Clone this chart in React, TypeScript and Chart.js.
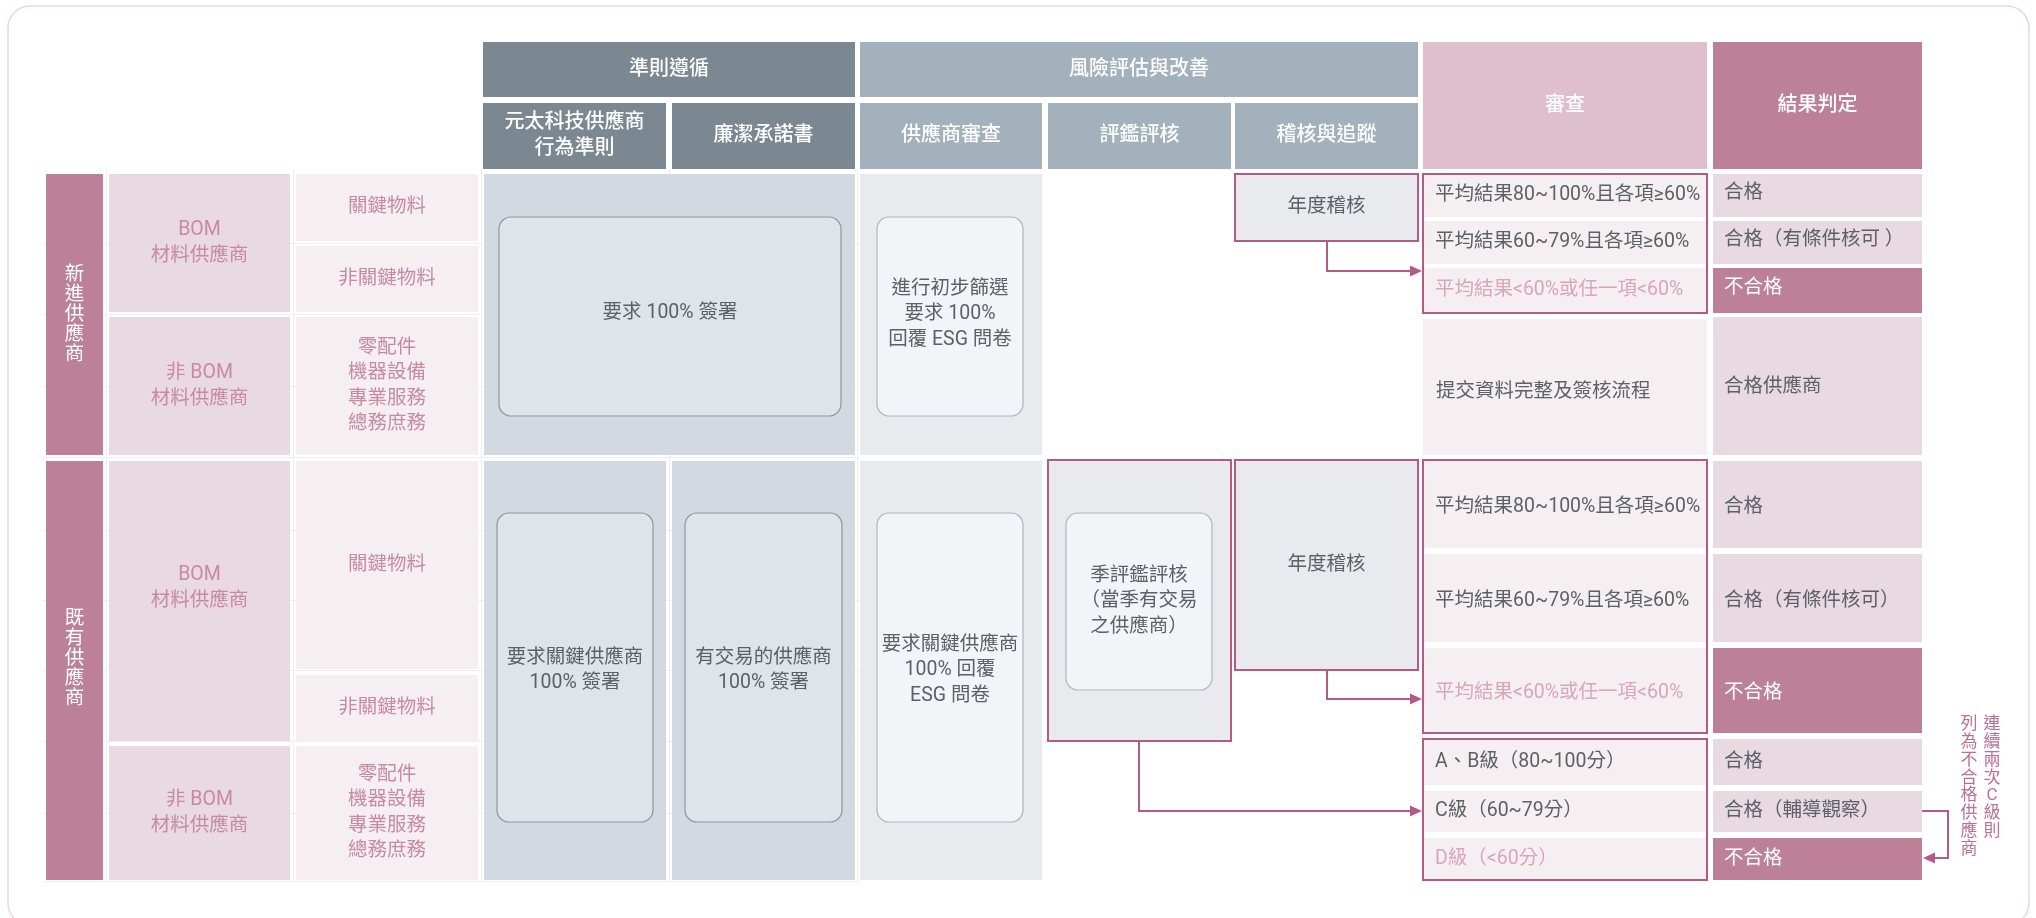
import React, { useEffect, useRef } from "react";
import { Chart, registerables } from "chart.js";

Chart.register(...registerables);

// ---------------- DATA ----------------
const PILLARS = ["準則遵循", "風險評估與改善"];
const CONDUCT_STEPS = ["元太科技供應商\n行為準則", "廉潔承諾書"];
const RISK_STEPS = ["供應商審查", "評鑑評核", "稽核與追蹤"];
const REVIEW_HEADER = "審查";
const RESULT_HEADER = "結果判定";
const SUPPLIER_GROUPS = ["新進供應商", "既有供應商"];
const SUPPLIER_TYPES = ["BOM\n材料供應商", "非 BOM\n材料供應商"];
const MATERIAL_TYPES = ["關鍵物料", "非關鍵物料", "零配件\n機器設備\n專業服務\n總務庶務"];
const NEW_CONDUCT = "要求 100% 簽署";
const NEW_SCREEN = "進行初步篩選\n要求 100%\n回覆 ESG 問卷";
const EXIST_CONDUCT = "要求關鍵供應商\n100% 簽署";
const EXIST_INTEGRITY = "有交易的供應商\n100% 簽署";
const EXIST_SCREEN = "要求關鍵供應商\n100% 回覆\nESG 問卷";
const QUARTERLY = "季評鑑評核\n（當季有交易\n之供應商）";
const ANNUAL = "年度稽核";
const AUDIT_CRITERIA = ["平均結果80~100%且各項≥60%", "平均結果60~79%且各項≥60%", "平均結果<60%或任一項<60%"];
const NEW_AUDIT_RESULTS = ["合格", "合格（有條件核可 ）", "不合格"];
const EXIST_AUDIT_RESULTS = ["合格", "合格（有條件核可）", "不合格"];
const ONBOARD_STEP = "提交資料完整及簽核流程";
const ONBOARD_RESULT = "合格供應商";
const GRADES = ["A、B級（80~100分）", "C級（60~79分）", "D級（<60分）"];
const GRADE_RESULTS = ["合格", "合格（輔導觀察）", "不合格"];
const NOTE_LINES = ["連續兩次C級則", "列為不合格供應商"];

// ---------------- STYLE ----------------
const W = 2036;
const H = 918;
const FONT = 'Roboto, "Noto Sans CJK TC", "Noto Sans", sans-serif';
const BODY_SIZE = 19.5;
const HEAD_SIZE = 20;
const COL = {
  headDark: "#7b8891",
  headLight: "#a3b1bc",
  headPink: "#dfbfcd",
  headRose: "#bc8099",
  conductBody: "#d2d9e0",
  conductBox: "#dfe3ea",
  conductLine: "#8e979f",
  screenBody: "#e9eaee",
  screenBox: "#f2f5f8",
  screenLine: "#a9b7c5",
  typeCell: "#e9dae1",
  materialCell: "#f6eff2",
  accent: "#b35a88",
  text: "#5b6168",
  pinkText: "#c78aa4",
  failText: "#d9a5bc",
  noteText: "#bb6f95",
  card: "#ecd5e0",
  grid: "#f1eef1",
  white: "#ffffff",
};

// ---------------- LAYOUT (grid in value space) ----------------
const X_LABEL: [number, number] = [46, 103];
const X_TYPE: [number, number] = [109, 290];
const X_MAT: [number, number] = [296, 478];
const X_C1: [number, number] = [483, 666];
const X_C2: [number, number] = [672, 855];
const X_R1: [number, number] = [860, 1042];
const X_R2: [number, number] = [1048, 1231];
const X_R3: [number, number] = [1235, 1418];
const X_REV: [number, number] = [1423, 1707];
const X_RES: [number, number] = [1713, 1922];
const Y_H1: [number, number] = [42, 97];
const Y_H2: [number, number] = [103, 169];
const Y_G1: [number, number] = [174, 455];
const Y_G2: [number, number] = [461, 880];

const App: React.FC = () => {
  const ref = useRef<HTMLCanvasElement | null>(null);

  useEffect(() => {
    document.body.style.margin = "0";
    document.body.style.background = "#ffffff";
    const canvas = ref.current;
    if (!canvas) return;

    const diagram = {
      id: "diagram",
      afterDraw(chart: any) {
        const ctx: CanvasRenderingContext2D = chart.ctx;
        const sx = chart.scales.x;
        const sy = chart.scales.y;
        const X = (v: number) => sx.getPixelForValue(v);
        const Y = (v: number) => sy.getPixelForValue(v);

        const fillRect = (xr: [number, number], yr: [number, number], color: string) => {
          ctx.fillStyle = color;
          ctx.fillRect(X(xr[0]), Y(yr[0]), X(xr[1]) - X(xr[0]), Y(yr[1]) - Y(yr[0]));
        };
        const strokeRect = (xr: [number, number], yr: [number, number], color: string, lw = 2) => {
          ctx.strokeStyle = color;
          ctx.lineWidth = lw;
          ctx.strokeRect(X(xr[0]), Y(yr[0]), X(xr[1]) - X(xr[0]), Y(yr[1]) - Y(yr[0]));
        };
        const roundBox = (xr: [number, number], yr: [number, number], fill: string, line: string, r = 12) => {
          ctx.beginPath();
          ctx.roundRect(X(xr[0]), Y(yr[0]), X(xr[1]) - X(xr[0]), Y(yr[1]) - Y(yr[0]), r);
          ctx.fillStyle = fill;
          ctx.fill();
          ctx.strokeStyle = line;
          ctx.lineWidth = 1.2;
          ctx.stroke();
        };
        const text = (
          s: string,
          x: number,
          y: number,
          color: string,
          align: CanvasTextAlign = "center",
          size = BODY_SIZE,
          weight = "normal",
          lh = 25.5
        ) => {
          const lines = s.split("\n");
          ctx.fillStyle = color;
          ctx.font = `${weight} ${size}px ${FONT}`;
          ctx.textAlign = align;
          ctx.textBaseline = "middle";
          const top = Y(y) - ((lines.length - 1) * lh) / 2;
          lines.forEach((ln, i) => ctx.fillText(ln, X(x), top + i * lh));
        };
        const cellText = (
          s: string,
          xr: [number, number],
          yr: [number, number],
          color: string,
          dy = 0,
          size = BODY_SIZE,
          weight = "normal"
        ) => text(s, (xr[0] + xr[1]) / 2, (yr[0] + yr[1]) / 2 + dy, color, "center", size, weight);
        const headText = (s: string, xr: [number, number], yr: [number, number]) =>
          cellText(s, xr, yr, COL.white, 0, HEAD_SIZE, "500");
        const vertical = (s: string, cx: number, cy: number, color: string, size: number, step: number) => {
          const chars = Array.from(s);
          ctx.fillStyle = color;
          ctx.font = `${size}px ${FONT}`;
          ctx.textAlign = "center";
          ctx.textBaseline = "middle";
          const top = Y(cy) - ((chars.length - 1) * step) / 2;
          chars.forEach((c, i) => ctx.fillText(c, X(cx), top + i * step));
        };
        const verticalTop = (s: string, cx: number, top: number, color: string, size: number, step: number) => {
          const chars = Array.from(s);
          ctx.fillStyle = color;
          ctx.font = `${size}px ${FONT}`;
          ctx.textAlign = "center";
          ctx.textBaseline = "middle";
          chars.forEach((c, i) => ctx.fillText(c, X(cx), Y(top) + step / 2 + i * step));
        };
        const arrow = (pts: [number, number][]) => {
          ctx.strokeStyle = COL.accent;
          ctx.fillStyle = COL.accent;
          ctx.lineWidth = 2;
          const n = pts.length;
          const [tx, ty] = pts[n - 1];
          const [px] = pts[n - 2];
          const dir = Math.sign(tx - px) || 1;
          const len = 12;
          ctx.beginPath();
          ctx.moveTo(X(pts[0][0]), Y(pts[0][1]));
          for (let i = 1; i < n - 1; i++) ctx.lineTo(X(pts[i][0]), Y(pts[i][1]));
          ctx.lineTo(X(tx - dir * len), Y(ty));
          ctx.stroke();
          ctx.beginPath();
          ctx.moveTo(X(tx), Y(ty));
          ctx.lineTo(X(tx - dir * len), Y(ty) - 5.5);
          ctx.lineTo(X(tx - dir * len), Y(ty) + 5.5);
          ctx.closePath();
          ctx.fill();
        };

        ctx.save();
        // card
        ctx.beginPath();
        ctx.roundRect(X(8), Y(6), X(2029) - X(8), Y(925) - Y(6), 22);
        ctx.strokeStyle = COL.card;
        ctx.lineWidth = 1.5;
        ctx.stroke();

        // faint table grid (visible only in the gaps between cells)
        ctx.strokeStyle = COL.grid;
        ctx.lineWidth = 1;
        [243, 314, 386, 457, 530, 600, 670, 741, 813, 881].forEach((gy) => {
          ctx.beginPath();
          ctx.moveTo(X(42), Y(gy) + 0.5);
          ctx.lineTo(X(860), Y(gy) + 0.5);
          ctx.stroke();
        });
        [106, 293, 481, 669, 857].forEach((gx) => {
          ctx.beginPath();
          ctx.moveTo(X(gx) + 0.5, Y(169));
          ctx.lineTo(X(gx) + 0.5, Y(883));
          ctx.stroke();
        });

        // ---- headers ----
        fillRect([X_C1[0], X_C2[1]], Y_H1, COL.headDark);
        fillRect([X_R1[0], X_R3[1]], Y_H1, COL.headLight);
        fillRect(X_C1, Y_H2, COL.headDark);
        fillRect(X_C2, Y_H2, COL.headDark);
        fillRect(X_R1, Y_H2, COL.headLight);
        fillRect(X_R2, Y_H2, COL.headLight);
        fillRect(X_R3, Y_H2, COL.headLight);
        fillRect(X_REV, [Y_H1[0], Y_H2[1]], COL.headPink);
        fillRect(X_RES, [Y_H1[0], Y_H2[1]], COL.headRose);
        headText(PILLARS[0], [X_C1[0], X_C2[1]], Y_H1);
        headText(PILLARS[1], [X_R1[0], X_R3[1]], Y_H1);
        headText(CONDUCT_STEPS[0], X_C1, Y_H2);
        headText(CONDUCT_STEPS[1], X_C2, Y_H2);
        headText(RISK_STEPS[0], X_R1, Y_H2);
        headText(RISK_STEPS[1], X_R2, Y_H2);
        headText(RISK_STEPS[2], X_R3, Y_H2);
        headText(REVIEW_HEADER, X_REV, [Y_H1[0], Y_H2[1]]);
        headText(RESULT_HEADER, X_RES, [Y_H1[0], Y_H2[1]]);

        // ---- left side: group 1 ----
        fillRect(X_LABEL, Y_G1, COL.headRose);
        vertical(SUPPLIER_GROUPS[0], (X_LABEL[0] + X_LABEL[1]) / 2, 315, COL.white, 19.5, 20);
        fillRect(X_TYPE, [174, 312], COL.typeCell);
        fillRect(X_TYPE, [317, 455], COL.typeCell);
        cellText(SUPPLIER_TYPES[0], X_TYPE, [174, 312], COL.pinkText);
        cellText(SUPPLIER_TYPES[1], X_TYPE, [317, 455], COL.pinkText);
        fillRect(X_MAT, [174, 241], COL.materialCell);
        fillRect(X_MAT, [246, 312], COL.materialCell);
        fillRect(X_MAT, [317, 455], COL.materialCell);
        cellText(MATERIAL_TYPES[0], X_MAT, [174, 241], COL.pinkText);
        cellText(MATERIAL_TYPES[1], X_MAT, [246, 312], COL.pinkText);
        cellText(MATERIAL_TYPES[2], X_MAT, [317, 455], COL.pinkText);

        // ---- left side: group 2 ----
        fillRect(X_LABEL, Y_G2, COL.headRose);
        vertical(SUPPLIER_GROUPS[1], (X_LABEL[0] + X_LABEL[1]) / 2, 659, COL.white, 19.5, 20);
        fillRect(X_TYPE, [461, 741], COL.typeCell);
        fillRect(X_TYPE, [746, 880], COL.typeCell);
        cellText(SUPPLIER_TYPES[0], X_TYPE, [461, 741], COL.pinkText, -13);
        cellText(SUPPLIER_TYPES[1], X_TYPE, [746, 880], COL.pinkText);
        fillRect(X_MAT, [461, 669], COL.materialCell);
        fillRect(X_MAT, [675, 741], COL.materialCell);
        fillRect(X_MAT, [746, 880], COL.materialCell);
        cellText(MATERIAL_TYPES[0], X_MAT, [461, 669], COL.pinkText);
        cellText(MATERIAL_TYPES[1], X_MAT, [675, 741], COL.pinkText);
        cellText(MATERIAL_TYPES[2], X_MAT, [746, 880], COL.pinkText);

        // ---- conduct pillar ----
        fillRect([X_C1[0] + 1, X_C2[1]], Y_G1, COL.conductBody);
        roundBox([499, 841], [217, 416], COL.conductBox, COL.conductLine);
        cellText(NEW_CONDUCT, [499, 841], [217, 416], COL.text, -3);
        fillRect([X_C1[0] + 1, X_C1[1]], Y_G2, COL.conductBody);
        fillRect(X_C2, Y_G2, COL.conductBody);
        roundBox([497, 653], [513, 822], COL.conductBox, COL.conductLine);
        roundBox([685, 842], [513, 822], COL.conductBox, COL.conductLine);
        cellText(EXIST_CONDUCT, [497, 653], [513, 822], COL.text, 3);
        cellText(EXIST_INTEGRITY, [685, 842], [513, 822], COL.text, 3);

        // ---- supplier review ----
        fillRect(X_R1, Y_G1, COL.screenBody);
        roundBox([877, 1023], [217, 416], COL.screenBox, COL.screenLine);
        cellText(NEW_SCREEN, [877, 1023], [217, 416], COL.text, -2);
        fillRect(X_R1, Y_G2, COL.screenBody);
        roundBox([877, 1023], [513, 822], COL.screenBox, COL.screenLine);
        cellText(EXIST_SCREEN, [877, 1023], [513, 822], COL.text, 3);

        // ---- evaluation (group 2) ----
        fillRect(X_R2, [460, 741], COL.screenBody);
        strokeRect(X_R2, [460, 741], COL.accent);
        roundBox([1066, 1212], [513, 690], COL.screenBox, COL.screenLine);
        cellText(QUARTERLY, [1066, 1212], [513, 690], COL.text);

        // ---- annual audits ----
        fillRect(X_R3, [174, 241], COL.screenBody);
        strokeRect(X_R3, [174, 241], COL.accent);
        cellText(ANNUAL, X_R3, [174, 241], COL.text);
        fillRect(X_R3, [460, 670], COL.screenBody);
        strokeRect(X_R3, [460, 670], COL.accent);
        cellText(ANNUAL, X_R3, [460, 670], COL.text);

        // ---- review / results group 1 ----
        const g1Rows: [number, number][] = [[174, 217], [221, 264], [268, 313]];
        g1Rows.forEach((r, i) => {
          fillRect(X_REV, r, COL.materialCell);
          fillRect(X_RES, r, i === 2 ? COL.headRose : COL.typeCell);
          text(AUDIT_CRITERIA[i], 1435, (r[0] + r[1]) / 2, i === 2 ? COL.failText : COL.text, "left");
          text(NEW_AUDIT_RESULTS[i], 1724, (r[0] + r[1]) / 2 - 2, i === 2 ? COL.white : COL.text, "left");
        });
        strokeRect(X_REV, [174, 313], COL.accent);
        fillRect(X_REV, [319, 455], COL.materialCell);
        fillRect(X_RES, [317, 455], COL.typeCell);
        text(ONBOARD_STEP, 1436, 392, COL.text, "left");
        text(ONBOARD_RESULT, 1724, 387, COL.text, "left");

        // ---- review / results group 2 ----
        const g2Rows: [number, number][] = [[460, 548], [554, 642], [648, 733]];
        g2Rows.forEach((r, i) => {
          fillRect(X_REV, r, COL.materialCell);
          fillRect(X_RES, [Math.max(r[0], 461), r[1]], i === 2 ? COL.headRose : COL.typeCell);
          text(AUDIT_CRITERIA[i], 1435, (r[0] + r[1]) / 2 + 3, i === 2 ? COL.failText : COL.text, "left");
          text(EXIST_AUDIT_RESULTS[i], 1724, (r[0] + r[1]) / 2 + 3, i === 2 ? COL.white : COL.text, "left");
        });
        strokeRect(X_REV, [460, 733], COL.accent);
        const gradeRows: [number, number][] = [[739, 785], [791, 832], [838, 880]];
        gradeRows.forEach((r, i) => {
          fillRect(X_REV, r, COL.materialCell);
          fillRect(X_RES, r, i === 2 ? COL.headRose : COL.typeCell);
          text(GRADES[i], 1435, (r[0] + r[1]) / 2, i === 2 ? COL.failText : COL.text, "left");
          text(GRADE_RESULTS[i], 1724, (r[0] + r[1]) / 2, i === 2 ? COL.white : COL.text, "left");
        });
        strokeRect(X_REV, [739, 880], COL.accent);

        // ---- arrows ----
        arrow([[1327, 241], [1327, 271], [1422, 271]]);
        arrow([[1327, 670], [1327, 699], [1422, 699]]);
        arrow([[1139, 741], [1139, 811], [1422, 811]]);
        arrow([[1922, 811], [1948, 811], [1948, 858], [1923, 858]]);

        // ---- note ----
        verticalTop(NOTE_LINES[0], 1992, 716, COL.noteText, 17, 17.8);
        verticalTop(NOTE_LINES[1], 1969, 716, COL.noteText, 17, 17.8);

        ctx.restore();
      },
    };

    const chart = new Chart(canvas, {
      type: "scatter",
      data: { datasets: [] },
      options: {
        responsive: false,
        animation: false,
        devicePixelRatio: 1,
        events: [],
        layout: { padding: 0 },
        plugins: { legend: { display: false }, tooltip: { enabled: false } },
        scales: {
          x: { type: "linear", min: 0, max: W, display: false },
          y: { type: "linear", min: 0, max: H, reverse: true, display: false },
        },
      },
      plugins: [diagram],
    } as any);

    return () => chart.destroy();
  }, []);

  return (
    <canvas ref={ref} width={W} height={H} style={{ display: "block", width: W, height: H }} />
  );
};

export default App;
